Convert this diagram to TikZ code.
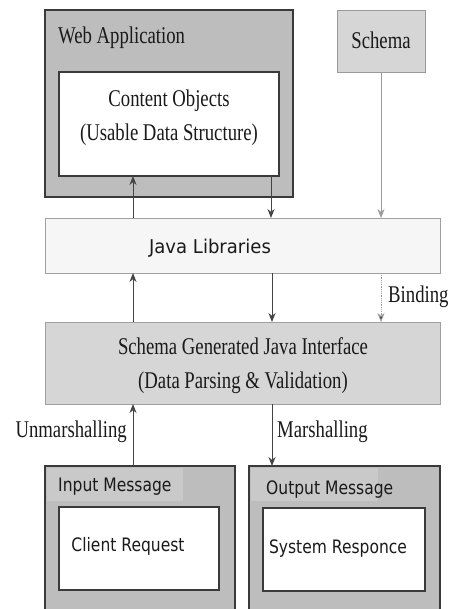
\documentclass[tikz,border=0pt]{standalone}
\usepackage{fontspec}
\setmainfont{Liberation Serif}
\newfontfamily\serifc[FakeStretch=0.78]{Liberation Serif}
\newfontfamily\sansc[FakeStretch=0.84]{DejaVu Sans}
\newfontfamily\sansj[FakeStretch=0.95]{DejaVu Sans}
\usetikzlibrary{arrows.meta}
\definecolor{darkbox}{HTML}{BDBDBD}
\definecolor{lightbox}{HTML}{D6D6D6}
\definecolor{paleback}{HTML}{F6F6F6}
\definecolor{titleback}{HTML}{C9C9C9}
\definecolor{edgedark}{HTML}{3A3A3A}
\definecolor{edgelight}{HTML}{A0A0A0}
\definecolor{arrowgray}{HTML}{444444}
\definecolor{linegray}{HTML}{9A9A9A}
\definecolor{textgray}{HTML}{1A1A1A}
\tikzset{
  x=1pt, y=-1pt,
  outerbox/.style={draw=edgedark, fill=darkbox, line width=1.3pt},
  innerbox/.style={draw=edgedark, fill=white, line width=1.2pt},
  lightrect/.style={draw=edgelight, fill=lightbox, line width=0.9pt},
  paleback/.style={draw=edgelight, fill=paleback, line width=0.9pt},
  serifl/.style={font=\serifc\fontsize{24}{34}\selectfont, text=textgray, inner sep=0pt, align=center},
  sansl/.style={font=\sansc\fontsize{18.5}{22}\selectfont, text=textgray, inner sep=0pt},
  flow/.style={draw=arrowgray, line width=0.9pt, -{Stealth[length=9pt,width=7pt]}},
  bind/.style={draw=linegray, line width=0.8pt, densely dotted, -{Stealth[length=9pt,width=7pt,fill=arrowgray]}},
  plainl/.style={draw=linegray, line width=0.8pt}
}
\begin{document}
\begin{tikzpicture}
\useasboundingbox (0,0) rectangle (450,609);
\fill[white] (0,0) rectangle (450,609);

% Web Application
\draw[outerbox] (45,10) rectangle (293,197);
\node[serifl, anchor=west] (wa) at (58,38) {Web Application};
\draw[innerbox] (59,72) rectangle (279,176);
\coordinate (coB1) at (133,176);
\coordinate (coB2) at (271,176);
\node[serifl] (co) at (169,118) {Content Objects\\(Usable Data Structure)};

% Schema
\draw[lightrect, draw=linegray] (337,10) rectangle (425,72);
\node[serifl] (sc) at (381,40) {Schema};
\coordinate (scB) at (381,72);

% Java Libraries
\draw[paleback] (45,218) rectangle (440,273);
\node[font=\sansj\fontsize{19}{22}\selectfont, text=textgray, inner sep=0pt] (jl) at (210,248) {Java Libraries};
\coordinate (jlT1) at (133,218);
\coordinate (jlT2) at (271,218);
\coordinate (jlT3) at (381,218);
\coordinate (jlB1) at (133,273);
\coordinate (jlB2) at (272,273);
\coordinate (jlB3) at (381,273);

% Schema Generated Java Interface
\draw[lightrect] (45,322) rectangle (440,404);
\node[serifl] (sg) at (243,366) {Schema Generated Java Interface\\(Data Parsing \& Validation)};
\coordinate (sgT1) at (133,322);
\coordinate (sgT2) at (272,322);
\coordinate (sgT3) at (381,322);
\coordinate (sgB1) at (133,404);
\coordinate (sgB2) at (272,404);

% Input Message
\draw[outerbox] (45,466) rectangle (235,615);
\fill[titleback] (47,468) rectangle (183,501);
\node[sansl, anchor=west] (im) at (58,487) {Input Message};
\draw[innerbox] (59,507) rectangle (219,590);
\node[sansl] (cr) at (128,546) {Client Request};
\coordinate (imT) at (133,466);

% Output Message
\draw[outerbox] (249,466) rectangle (440,615);
\fill[titleback] (251,468) rectangle (378,501);
\node[sansl, anchor=west] (om) at (266,490) {Output Message};
\draw[innerbox] (263,508) rectangle (425,591);
\node[sansl] (sr) at (338,549) {System Responce};
\coordinate (omT) at (272,466);

% connectors
\draw[flow] (jlT1) -- (coB1);
\draw[flow] (coB2) -- (jlT2);
\draw[plainl, -{Stealth[length=9pt,width=7pt]}, draw=linegray] (scB) -- (jlT3);
\draw[flow] (sgT1) -- (jlB1);
\draw[flow] (jlB2) -- (sgT2);
\draw[bind] (jlB3) -- (sgT3);
\node[serifl, anchor=west] (bd) at (388,297) {Binding};
\draw[flow] (imT) -- (sgB1);
\node[serifl, anchor=east] (um) at (127,432) {Unmarshalling};
\draw[flow] (sgB2) -- (omT);
\node[serifl, anchor=west] (ms) at (277,432) {Marshalling};
\end{tikzpicture}
\end{document}
